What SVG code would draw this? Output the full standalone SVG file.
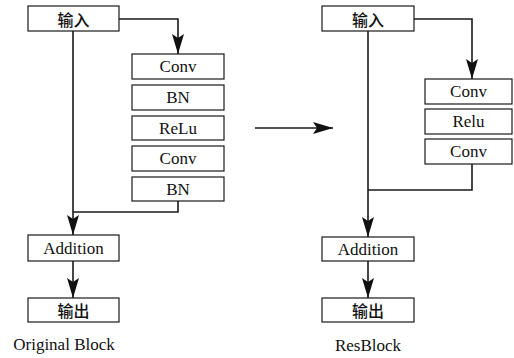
<svg xmlns="http://www.w3.org/2000/svg" width="514" height="358" viewBox="0 0 514 358">
  <style>
    .box { fill: #ffffff; stroke: #1a1a1a; stroke-width: 1.2; }
    .lbl { font-family: "Liberation Serif", serif; font-size: 17px; fill: #111; text-anchor: middle; dominant-baseline: central; }
    .cjk { font-family: "Noto Sans CJK SC", sans-serif; font-size: 16px; font-weight: 500; }
    .cap { font-family: "Liberation Serif", serif; font-size: 17px; fill: #111; text-anchor: middle; }
    .wire { fill: none; stroke: #1a1a1a; stroke-width: 1.6; }
  </style>
  <defs>
    <marker id="head" viewBox="0 0 20 12" refX="20" refY="6" markerWidth="20" markerHeight="12" markerUnits="userSpaceOnUse" orient="auto">
      <path d="M0,0 L20,6 L0,12 L4,6 Z" fill="#111"/>
    </marker>
  </defs>

  <rect width="514" height="358" fill="#ffffff"/>

  <!-- Original block -->
  <g id="orig-input"><rect class="box" x="28" y="6" width="91" height="25"/><text class="lbl cjk" x="73.5" y="18.5">输入</text></g>
  <g id="orig-conv1"><rect class="box" x="132" y="54" width="92" height="25"/><text class="lbl" x="178" y="66.5">Conv</text></g>
  <g id="orig-bn1"><rect class="box" x="132" y="85" width="92" height="25"/><text class="lbl" x="178" y="97.5">BN</text></g>
  <g id="orig-relu"><rect class="box" x="132" y="116" width="92" height="24"/><text class="lbl" x="178" y="128">ReLu</text></g>
  <g id="orig-conv2"><rect class="box" x="132" y="146" width="92" height="25"/><text class="lbl" x="178" y="158.5">Conv</text></g>
  <g id="orig-bn2"><rect class="box" x="132" y="177" width="92" height="24"/><text class="lbl" x="178" y="189">BN</text></g>
  <g id="orig-add"><rect class="box" x="28" y="235" width="91" height="26"/><text class="lbl" x="73.5" y="248">Addition</text></g>
  <g id="orig-output"><rect class="box" x="28" y="298" width="91" height="24"/><text class="lbl cjk" x="73.5" y="310">输出</text></g>
  <text class="cap" x="64" y="350">Original Block</text>

  <!-- Residual block -->
  <g id="res-input"><rect class="box" x="322" y="6" width="92" height="25"/><text class="lbl cjk" x="368" y="18.5">输入</text></g>
  <g id="res-conv1"><rect class="box" x="425" y="79" width="87" height="25"/><text class="lbl" x="468.5" y="91.5">Conv</text></g>
  <g id="res-relu"><rect class="box" x="425" y="109" width="87" height="25"/><text class="lbl" x="468.5" y="121.5">Relu</text></g>
  <g id="res-conv2"><rect class="box" x="425" y="139" width="87" height="25"/><text class="lbl" x="468.5" y="151.5">Conv</text></g>
  <g id="res-add"><rect class="box" x="322" y="237" width="92" height="24"/><text class="lbl" x="368" y="249">Addition</text></g>
  <g id="res-output"><rect class="box" x="322" y="298" width="92" height="24"/><text class="lbl cjk" x="368" y="310">输出</text></g>
  <text class="cap" x="368" y="351">ResBlock</text>

  <!-- Connectors -->
  <g id="connectors">
    <path class="wire" d="M119,19 H178 V54" marker-end="url(#head)"/>
    <path class="wire" d="M73,31 V235" marker-end="url(#head)"/>
    <path class="wire" d="M178,201 V212 H73"/>
    <path class="wire" d="M73,261 V298" marker-end="url(#head)"/>

    <path class="wire" d="M414,19 H472 V79" marker-end="url(#head)"/>
    <path class="wire" d="M368,31 V237" marker-end="url(#head)"/>
    <path class="wire" d="M472,164 V190 H368"/>
    <path class="wire" d="M368,261 V298" marker-end="url(#head)"/>

    <path class="wire" d="M255,128 H333" marker-end="url(#head)"/>
  </g>
</svg>
